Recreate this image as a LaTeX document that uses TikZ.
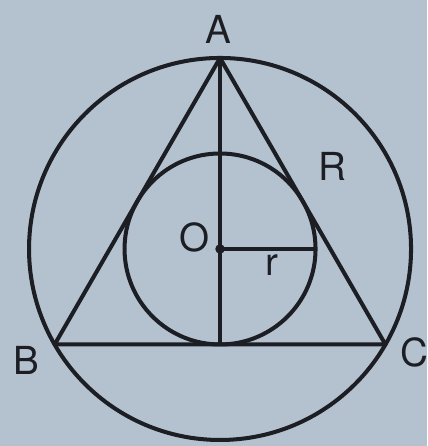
\documentclass[tikz,border=0pt]{standalone}
\usepackage{fontspec}
\setmainfont{TeX Gyre Heros}
\usetikzlibrary{calc}
\definecolor{paperbg}{RGB}{180,194,208}
\definecolor{inkline}{RGB}{28,30,36}

\begin{document}
\begin{tikzpicture}[line width=1.2pt, draw=inkline,
  lbl/.style={font=\fontsize{11.5}{14}\selectfont, text=inkline, inner sep=0pt}]
  % page and paper tone
  \fill[paperbg] (-2.304,-2.063) rectangle (2.168,2.607);
  \useasboundingbox (-2.304,-2.063) rectangle (2.168,2.607);
  % points
  \coordinate (O) at (0,0);
  \coordinate (A) at (90:2);
  \coordinate (B) at (210:2);
  \coordinate (C) at (330:2);
  \coordinate (D) at (0,-1);
  \coordinate (E) at (1,0);
  % circles and triangle
  \draw[inkline] (O) circle (2);
  \draw[inkline] (O) circle (1);
  \draw[inkline, line join=round] (A) -- (B) -- (C) -- cycle;
  \draw[inkline] (A) -- (D);
  \draw[inkline] (O) -- (E);
  \fill[inkline] (O) circle (0.05);
  % labels
  \node[lbl] (la) at (-0.02,2.30) {A};
  \node[lbl] (lb) at (-2.03,-1.17) {B};
  \node[lbl] (lc) at (2.04,-1.08) {C};
  \node[lbl] (lo) at (-0.27,0.12) {O};
  \node[lbl] (lr) at (0.54,-0.17) {r};
  \node[lbl] (lR) at (1.18,0.86) {R};
\end{tikzpicture}
\end{document}
